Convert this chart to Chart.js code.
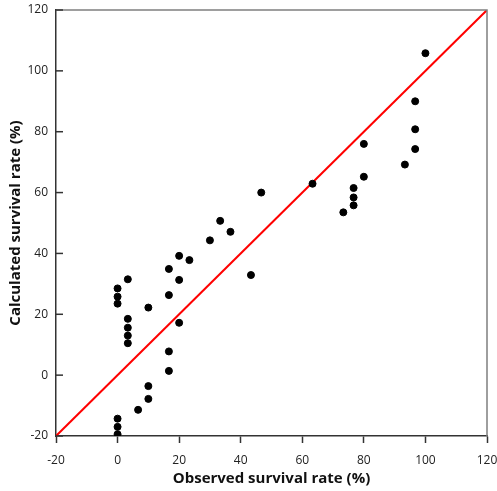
<!DOCTYPE html>
<html>
<head>
<meta charset="utf-8">
<script src="https://cdn.jsdelivr.net/npm/chart.js@4"></script>
<style>
  body { margin: 0; background: #fff; }
  #wrap { width: 497px; height: 491px; }
</style>
</head>
<body>
<div id="wrap"><canvas id="myChart" width="497" height="491"></canvas></div>
<script>
// observed vs calculated survival rate (%)
const observed = [0, 0, 0, 3.33, 3.33, 3.33, 3.33, 3.33, 10, 16.67, 16.67, 20, 20, 23.33, 20,
    16.67, 16.67, 10, 10, 6.67, 0, 0, 0, 30, 33.33, 36.67, 43.33, 46.67,
    63.33, 80, 80, 76.67, 76.67, 76.67, 73.33, 93.33, 96.67, 96.67, 96.67, 100];
const calculated = [28.5, 25.8, 23.5, 31.5, 18.5, 15.6, 13.0, 10.5, 22.2, 34.9, 26.3, 39.2, 31.3, 37.8, 17.2,
    7.8, 1.4, -3.6, -7.8, -11.4, -14.3, -17.0, -19.4, 44.3, 50.7, 47.1, 32.9, 60.0,
    62.9, 76.0, 65.2, 61.5, 58.4, 55.8, 53.5, 69.2, 90.0, 80.8, 74.3, 105.8];
const axisMin = -20;
const axisMax = 120;
const tickStep = 20;

const points = observed.map((x, i) => ({ x: x, y: calculated[i] }));
const lineOfEquality = [{ x: axisMin, y: axisMin }, { x: axisMax, y: axisMax }];

const fontFamily = '"Open Sans", "Noto Sans", sans-serif';

// box on top/right and inward ticks on the y axis
const frame = {
    id: 'frame',
    afterDraw(chart) {
        const { ctx, chartArea: a } = chart;
        const ys = chart.scales.y;
        ctx.save();
        ctx.strokeStyle = '#7f7f7f';
        ctx.lineWidth = 1.5;
        ctx.beginPath();
        ctx.moveTo(a.left, a.top);
        ctx.lineTo(a.right, a.top);
        ctx.lineTo(a.right, a.bottom);
        ctx.stroke();
        ctx.strokeStyle = '#333';
        ctx.lineWidth = 1.5;
        ys.ticks.forEach(t => {
            const py = ys.getPixelForValue(t.value);
            ctx.beginPath();
            ctx.moveTo(a.left, py);
            ctx.lineTo(a.left + 7, py);
            ctx.stroke();
        });
        ctx.restore();
    }
};

let ctx = document.getElementById('myChart').getContext('2d');

let myChart = new Chart(ctx, {
    data: {
        datasets: [{
            type: 'line',
            data: lineOfEquality,
            borderColor: '#ff0000',
            borderWidth: 2,
            pointRadius: 0,
            fill: false,
            order: 2
        }, {
            type: 'scatter',
            data: points,
            backgroundColor: '#000',
            borderColor: '#000',
            pointRadius: 3.5,
            order: 1
        }]
    },
    options: {
        responsive: false,
        animation: false,
        layout: { padding: { left: 0, right: 10, top: 10, bottom: 0 } },
        plugins: {
            legend: { display: false },
            tooltip: { enabled: false }
        },
        scales: {
            x: {
                type: 'linear',
                min: axisMin,
                max: axisMax,
                afterFit(scale) {
                    scale.height = 55;
                    scale.paddingLeft = 0;
                    scale.paddingRight = 0;
                },
                ticks: {
                    stepSize: tickStep,
                    color: '#222',
                    padding: 10,
                    maxRotation: 0,
                    font: { family: fontFamily, size: 12 }
                },
                grid: {
                    drawOnChartArea: false,
                    drawTicks: true,
                    tickLength: 7,
                    tickWidth: 1.5,
                    tickColor: '#333'
                },
                border: { color: '#333', width: 1.5 },
                title: {
                    display: true,
                    text: 'Observed survival rate (%)',
                    color: '#111',
                    padding: { top: 3, bottom: 3 },
                    font: { family: fontFamily, size: 15, weight: 'bold' }
                }
            },
            y: {
                type: 'linear',
                min: axisMin,
                max: axisMax,
                afterFit(scale) {
                    scale.width = 56;
                    scale.paddingTop = 0;
                    scale.paddingBottom = 0;
                },
                ticks: {
                    stepSize: tickStep,
                    color: '#222',
                    padding: 8,
                    font: { family: fontFamily, size: 12 }
                },
                grid: {
                    drawOnChartArea: false,
                    drawTicks: false
                },
                border: { color: '#333', width: 1.5 },
                title: {
                    display: true,
                    text: 'Calculated survival rate (%)',
                    color: '#111',
                    padding: { top: 7, bottom: 0 },
                    font: { family: fontFamily, size: 15, weight: 'bold' }
                }
            }
        }
    },
    plugins: [frame]
});
</script>
</body>
</html>
